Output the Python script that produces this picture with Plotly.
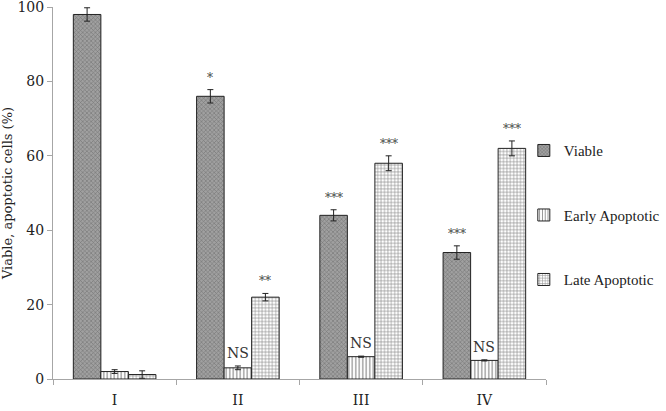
import plotly.graph_objects as go

# data
groups = ["I", "II", "III", "IV"]
viable = [98, 76, 44, 34]
viable_err = [1.8, 1.8, 1.5, 1.8]
early = [2.0, 3.0, 6.0, 5.0]
early_err = [0.5, 0.5, 0.15, 0.15]
late = [1.2, 22, 58, 62]
late_err = [1.0, 1.0, 2.0, 2.0]
viable_sig = ["", "*", "***", "***"]
early_sig = ["", "NS", "NS", "NS"]
late_sig = ["", "**", "***", "***"]

SERIF = "DejaVu Serif"
NARROW = "Liberation Serif, serif"

series = [
    ("Viable", viable, viable_err, viable_sig,
     dict(shape="x", fgcolor="#4a4a4a", bgcolor="#a0a0a0", size=3, solidity=0.35)),
    ("Early Apoptotic", early, early_err, early_sig,
     dict(shape="|", fgcolor="#222", bgcolor="white", size=3.5, solidity=0.35)),
    ("Late Apoptotic", late, late_err, late_sig,
     dict(shape="+", fgcolor="#222", bgcolor="white", size=3.4, solidity=0.35)),
]

fig = go.Figure()
for i, (name, vals, errs, sig, pat) in enumerate(series):
    fig.add_trace(go.Bar(
        x=groups, y=vals, name=name,
        legendgroup=name,
        marker=dict(color=pat["bgcolor"], pattern=pat,
                    line=dict(color="#222", width=1)),
        error_y=dict(type="data", array=errs, color="#222",
                     thickness=1, width=3),
    ))

# significance labels above bars
bar_px = 27.5
for i, (name, vals, errs, sig, pat) in enumerate(series):
    for g, v, e, s in zip(groups, vals, errs, sig):
        if not s:
            continue
        fig.add_annotation(
            x=g, y=v + e, text=s, showarrow=False,
            xshift=(i - 1) * bar_px, yanchor="bottom", yshift=3,
            font=dict(family=SERIF, size=14 if s == "NS" else 12,
                      color="#333" if s == "NS" else "#444"),
        )

fig.update_layout(
    width=666, height=411,
    margin=dict(l=53, r=120, t=7, b=32, autoexpand=False),
    plot_bgcolor="white", paper_bgcolor="white",
    barmode="group", bargap=0.33, bargroupgap=0,
    font=dict(family=SERIF, size=14, color="#222"),
    showlegend=True,
    legend=dict(x=0.955, y=0.658, xanchor="left", yanchor="top",
                bgcolor="rgba(0,0,0,0)",
                tracegroupgap=42, font=dict(size=15, family=NARROW),
                itemwidth=30),
)
fig.update_xaxes(
    showline=True, linecolor="#a6a6a6", linewidth=1,
    ticks="outside", tickson="boundaries", ticklen=5, tickcolor="#a6a6a6",
    ticklabelstandoff=8, tickfont=dict(size=14),
)
fig.update_yaxes(
    range=[0, 100.01], dtick=20, showgrid=False, zeroline=False,
    showline=True, linecolor="#a6a6a6", linewidth=1,
    ticks="outside", ticklen=5, tickcolor="#a6a6a6",
    tickfont=dict(size=14), ticklabeloverflow="allow",
    title=dict(text="Viable, apoptotic cells (%)", font=dict(size=13), standoff=4),
)

# drop the default body margin so the figure sits at the window's corner
fig.write_html("out.html", config={"displayModeBar": False},
               post_script="document.body.style.margin='0';")
